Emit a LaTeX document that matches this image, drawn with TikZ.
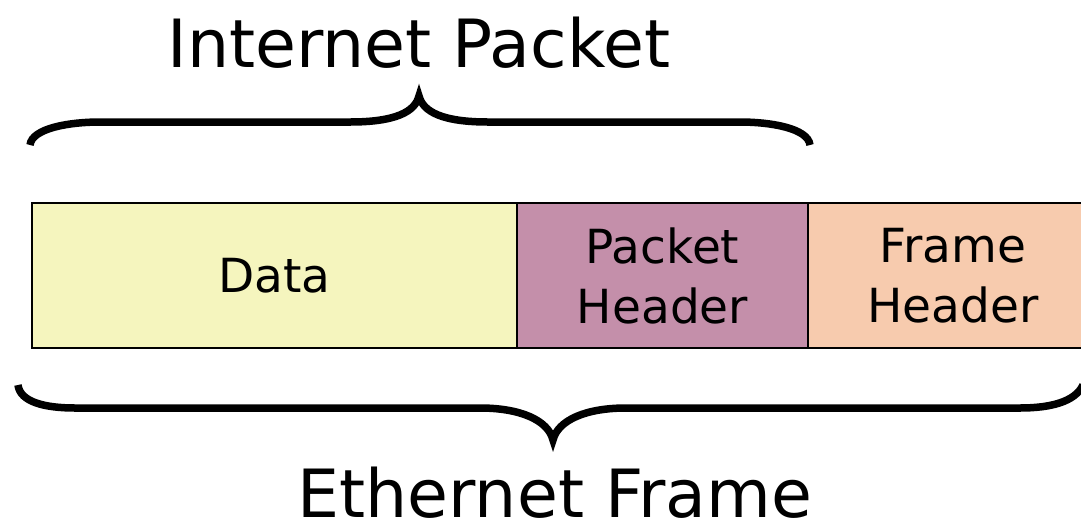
\documentclass[tikz,border=0pt]{standalone}
\usepackage{fontspec}
\setmainfont{DejaVu Sans}
\definecolor{datacol}{RGB}{245,245,190}
\definecolor{pktcol}{RGB}{196,143,170}
\definecolor{frmcol}{RGB}{247,203,174}
\begin{document}
\begin{tikzpicture}[x=1pt,y=-1pt,
  field/.style={draw=black,line width=2pt,minimum height=145pt,inner sep=0pt,align=center,font=\fontsize{47}{60}\selectfont,anchor=north west},
  bracepath/.style={line width=7.5pt,line cap=butt},
  title/.style={font=\fontsize{66.5}{70}\selectfont,inner sep=0pt}]
\useasboundingbox (0,0) rectangle (1081,523);
\node[field,fill=datacol,minimum width=485pt] (data) at (31,202) {Data};
\node[field,fill=pktcol,minimum width=291pt] (pkt) at (516,202) {Packet\\Header};
\node[field,fill=frmcol,minimum width=290pt] (frm) at (807,202) {Frame\\Header};
% top brace
\draw[bracepath] (30,145) .. controls (32,128) and (70,122) .. (100,122)
  -- (350,122) .. controls (395,122) and (415,112) .. (419,96)
  .. controls (423,112) and (443,122) .. (488,122)
  -- (740,122) .. controls (770,122) and (808,128) .. (810,145);
% bottom brace
\draw[bracepath] (18,385) .. controls (20,402) and (45,408) .. (75,408)
  -- (480,408) .. controls (520,408) and (548,420) .. (553,440)
  .. controls (558,420) and (586,408) .. (626,408)
  -- (1020,408) .. controls (1050,408) and (1075,402) .. (1083,385);
\node[title,anchor=base] (ip) at (419,67) {Internet Packet};
\node[title,anchor=base] (ef) at (555,517) {Ethernet Frame};
\end{tikzpicture}
\end{document}
